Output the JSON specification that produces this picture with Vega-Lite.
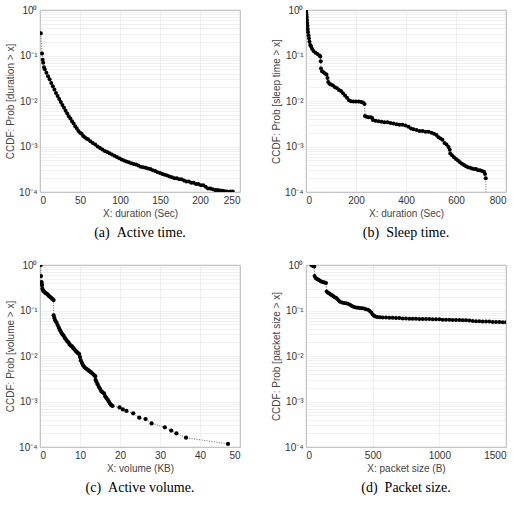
{
  "$schema": "https://vega.github.io/schema/vega-lite/v6.json",
  "padding": {"left": 5, "top": 4, "right": 4, "bottom": 4},
  "spacing": 18,
  "datasets": {
    "a": [
      {"x":1,"p":0.31},{"x":2.5,"p":0.11},{"x":3.3,"p":0.081},{"x":4,"p":0.069},{"x":5,"p":0.055},{"x":6,"p":0.05},{"x":8,"p":0.042},{"x":10,"p":0.035},{"x":12,"p":0.03},{"x":14,"p":0.025},{"x":16,"p":0.021},{"x":18,"p":0.018},{"x":20,"p":0.015},{"x":22,"p":0.0128},{"x":24,"p":0.011},{"x":26,"p":0.0095},{"x":28,"p":0.0082},{"x":30,"p":0.0071},{"x":32,"p":0.0061},{"x":34,"p":0.0053},{"x":36,"p":0.0046},{"x":38,"p":0.0041},{"x":40,"p":0.0036},{"x":42,"p":0.0032},{"x":44,"p":0.0028},{"x":46,"p":0.0025},{"x":48,"p":0.0022},{"x":50,"p":0.002},{"x":52,"p":0.0019},{"x":54,"p":0.0017},{"x":56,"p":0.0016},{"x":58,"p":0.0015},{"x":60,"p":0.00145},{"x":63,"p":0.0013},{"x":66,"p":0.0012},{"x":69,"p":0.0011},{"x":72,"p":0.001},{"x":75,"p":0.00093},{"x":78,"p":0.00086},{"x":81,"p":0.0008},{"x":84,"p":0.00076},{"x":87,"p":0.00071},{"x":90,"p":0.00067},{"x":93,"p":0.00063},{"x":96,"p":0.00059},{"x":99,"p":0.00055},{"x":102,"p":0.00052},{"x":105,"p":0.00049},{"x":108,"p":0.00047},{"x":111,"p":0.00045},{"x":114,"p":0.00043},{"x":117,"p":0.00041},{"x":120,"p":0.0004},{"x":123,"p":0.00038},{"x":126,"p":0.00036},{"x":129,"p":0.00035},{"x":132,"p":0.00034},{"x":135,"p":0.00033},{"x":138,"p":0.00032},{"x":141,"p":0.0003},{"x":144,"p":0.00029},{"x":147,"p":0.00027},{"x":150,"p":0.00026},{"x":153,"p":0.00025},{"x":156,"p":0.00024},{"x":159,"p":0.00023},{"x":162,"p":0.00022},{"x":165,"p":0.00021},{"x":168,"p":0.0002},{"x":171,"p":0.0002},{"x":174,"p":0.00019},{"x":177,"p":0.00019},{"x":180,"p":0.00018},{"x":183,"p":0.00017},{"x":186,"p":0.00017},{"x":189,"p":0.00016},{"x":192,"p":0.00016},{"x":195,"p":0.00015},{"x":198,"p":0.00015},{"x":201,"p":0.00014},{"x":204,"p":0.00014},{"x":207,"p":0.00013},{"x":210,"p":0.00012},{"x":213,"p":0.00012},{"x":216,"p":0.000115},{"x":219,"p":0.00011},{"x":222,"p":0.00011},{"x":225,"p":0.000108},{"x":228,"p":0.000106},{"x":231,"p":0.000104},{"x":234,"p":0.000103},{"x":238,"p":0.000102},{"x":241,"p":0.000102}
    ],
    "b": [
      {"x":0,"p":1.0},{"x":1,"p":0.9},{"x":2,"p":0.8},{"x":3,"p":0.7},{"x":4,"p":0.6},{"x":5,"p":0.52},{"x":6,"p":0.45},{"x":7,"p":0.38},{"x":8,"p":0.33},{"x":10,"p":0.28},{"x":12,"p":0.24},{"x":14,"p":0.2},{"x":17,"p":0.17},{"x":20,"p":0.16},{"x":24,"p":0.14},{"x":30,"p":0.125},{"x":38,"p":0.115},{"x":46,"p":0.108},{"x":54,"p":0.1},{"x":57,"p":0.095},{"x":59,"p":0.075},{"x":60,"p":0.052},{"x":64,"p":0.045},{"x":70,"p":0.043},{"x":76,"p":0.04},{"x":82,"p":0.038},{"x":86,"p":0.032},{"x":89,"p":0.026},{"x":94,"p":0.024},{"x":100,"p":0.023},{"x":108,"p":0.022},{"x":116,"p":0.02},{"x":124,"p":0.019},{"x":132,"p":0.0175},{"x":140,"p":0.0165},{"x":148,"p":0.0148},{"x":156,"p":0.0132},{"x":164,"p":0.0118},{"x":172,"p":0.0104},{"x":180,"p":0.0099},{"x":190,"p":0.0098},{"x":200,"p":0.0098},{"x":210,"p":0.0097},{"x":220,"p":0.0095},{"x":228,"p":0.0093},{"x":234,"p":0.0086},{"x":236,"p":0.0047},{"x":242,"p":0.0045},{"x":250,"p":0.0044},{"x":258,"p":0.0044},{"x":264,"p":0.0043},{"x":268,"p":0.0038},{"x":278,"p":0.0037},{"x":290,"p":0.0036},{"x":302,"p":0.0035},{"x":314,"p":0.0034},{"x":326,"p":0.0034},{"x":338,"p":0.0033},{"x":350,"p":0.0032},{"x":362,"p":0.0031},{"x":374,"p":0.003},{"x":386,"p":0.003},{"x":398,"p":0.0029},{"x":410,"p":0.0027},{"x":420,"p":0.0025},{"x":430,"p":0.0024},{"x":442,"p":0.0023},{"x":454,"p":0.0022},{"x":466,"p":0.0022},{"x":478,"p":0.0021},{"x":490,"p":0.0021},{"x":502,"p":0.002},{"x":512,"p":0.0019},{"x":522,"p":0.0018},{"x":530,"p":0.0016},{"x":538,"p":0.0015},{"x":546,"p":0.0014},{"x":554,"p":0.0012},{"x":562,"p":0.0011},{"x":570,"p":0.00098},{"x":575,"p":0.00085},{"x":577,"p":0.0007},{"x":584,"p":0.00064},{"x":592,"p":0.00058},{"x":600,"p":0.00053},{"x":608,"p":0.00049},{"x":616,"p":0.00045},{"x":624,"p":0.00042},{"x":632,"p":0.00039},{"x":640,"p":0.00037},{"x":648,"p":0.00035},{"x":656,"p":0.00034},{"x":664,"p":0.00033},{"x":672,"p":0.00032},{"x":680,"p":0.00032},{"x":688,"p":0.0003},{"x":696,"p":0.0003},{"x":704,"p":0.00029},{"x":712,"p":0.00028},{"x":716,"p":0.00025},{"x":719,"p":0.0002},{"x":721,"p":0.00005}
    ],
    "c": [
      {"x":0.2,"p":1.0},{"x":0.25,"p":0.57},{"x":0.4,"p":0.42},{"x":0.5,"p":0.36},{"x":0.6,"p":0.3},{"x":0.8,"p":0.27},{"x":1.0,"p":0.26},{"x":1.3,"p":0.245},{"x":1.6,"p":0.235},{"x":1.9,"p":0.225},{"x":2.2,"p":0.21},{"x":2.5,"p":0.2},{"x":2.8,"p":0.19},{"x":3.1,"p":0.18},{"x":3.4,"p":0.17},{"x":3.42,"p":0.078},{"x":3.6,"p":0.068},{"x":3.8,"p":0.06},{"x":4.1,"p":0.055},{"x":4.4,"p":0.048},{"x":4.7,"p":0.042},{"x":5.0,"p":0.037},{"x":5.3,"p":0.033},{"x":5.6,"p":0.03},{"x":5.9,"p":0.028},{"x":6.2,"p":0.025},{"x":6.5,"p":0.023},{"x":6.8,"p":0.021},{"x":7.1,"p":0.02},{"x":7.4,"p":0.018},{"x":7.7,"p":0.017},{"x":8.0,"p":0.0162},{"x":8.3,"p":0.015},{"x":8.6,"p":0.014},{"x":8.9,"p":0.013},{"x":9.2,"p":0.0122},{"x":9.5,"p":0.0115},{"x":9.8,"p":0.011},{"x":10.0,"p":0.0095},{"x":10.2,"p":0.008},{"x":10.5,"p":0.007},{"x":10.8,"p":0.0062},{"x":11.1,"p":0.0057},{"x":11.5,"p":0.0053},{"x":11.9,"p":0.005},{"x":12.3,"p":0.0047},{"x":12.7,"p":0.0044},{"x":13.1,"p":0.0041},{"x":13.5,"p":0.0038},{"x":13.8,"p":0.0036},{"x":13.9,"p":0.003},{"x":14.1,"p":0.0027},{"x":14.4,"p":0.0024},{"x":14.7,"p":0.0021},{"x":15.0,"p":0.0019},{"x":15.3,"p":0.0017},{"x":15.6,"p":0.0016},{"x":16.0,"p":0.0015},{"x":16.3,"p":0.0013},{"x":16.6,"p":0.0012},{"x":16.9,"p":0.0011},{"x":17.2,"p":0.001},{"x":17.5,"p":0.0009},{"x":17.8,"p":0.00083},{"x":18.1,"p":0.0008},{"x":19.9,"p":0.00074},{"x":20.7,"p":0.00067},{"x":21.6,"p":0.00062},{"x":23.3,"p":0.00055},{"x":24.8,"p":0.00044},{"x":26.4,"p":0.00041},{"x":27.9,"p":0.00033},{"x":31.2,"p":0.00027},{"x":32.8,"p":0.00023},{"x":34.1,"p":0.0002},{"x":36.5,"p":0.00016},{"x":47.0,"p":0.000117}
    ],
    "d": [
      {"x":40,"p":1.0},{"x":48,"p":0.97},{"x":55,"p":0.95},{"x":62,"p":0.93},{"x":64,"p":0.57},{"x":72,"p":0.52},{"x":80,"p":0.5},{"x":90,"p":0.48},{"x":100,"p":0.46},{"x":110,"p":0.44},{"x":120,"p":0.43},{"x":130,"p":0.42},{"x":140,"p":0.41},{"x":150,"p":0.4},{"x":155,"p":0.26},{"x":165,"p":0.245},{"x":175,"p":0.235},{"x":185,"p":0.225},{"x":195,"p":0.215},{"x":205,"p":0.205},{"x":215,"p":0.195},{"x":225,"p":0.19},{"x":235,"p":0.18},{"x":245,"p":0.165},{"x":255,"p":0.155},{"x":270,"p":0.15},{"x":285,"p":0.147},{"x":300,"p":0.145},{"x":315,"p":0.14},{"x":330,"p":0.133},{"x":345,"p":0.125},{"x":360,"p":0.12},{"x":375,"p":0.117},{"x":390,"p":0.115},{"x":405,"p":0.113},{"x":420,"p":0.112},{"x":435,"p":0.11},{"x":450,"p":0.107},{"x":465,"p":0.104},{"x":478,"p":0.098},{"x":490,"p":0.09},{"x":500,"p":0.082},{"x":510,"p":0.077},{"x":520,"p":0.074},{"x":535,"p":0.072},{"x":555,"p":0.071},{"x":575,"p":0.07},{"x":600,"p":0.07},{"x":625,"p":0.069},{"x":650,"p":0.069},{"x":675,"p":0.068},{"x":700,"p":0.068},{"x":725,"p":0.067},{"x":750,"p":0.067},{"x":775,"p":0.066},{"x":800,"p":0.066},{"x":825,"p":0.066},{"x":850,"p":0.065},{"x":875,"p":0.065},{"x":900,"p":0.065},{"x":925,"p":0.065},{"x":950,"p":0.064},{"x":975,"p":0.064},{"x":1000,"p":0.064},{"x":1025,"p":0.063},{"x":1050,"p":0.063},{"x":1075,"p":0.063},{"x":1100,"p":0.062},{"x":1125,"p":0.062},{"x":1150,"p":0.062},{"x":1175,"p":0.061},{"x":1200,"p":0.061},{"x":1225,"p":0.06},{"x":1250,"p":0.059},{"x":1275,"p":0.058},{"x":1300,"p":0.058},{"x":1325,"p":0.057},{"x":1350,"p":0.057},{"x":1375,"p":0.057},{"x":1400,"p":0.056},{"x":1425,"p":0.056},{"x":1450,"p":0.056},{"x":1475,"p":0.055},{"x":1500,"p":0.055}
    ]
  },
  "vconcat": [
    {
      "spacing": 30,
      "hconcat": [
        {
          "width": 200, "height": 182,
          "data": {"name": "a"},
          "title": {"text": "(a)\u00a0\u00a0Active time."},
          "encoding": {
            "x": {"field": "x", "type": "quantitative", "scale": {"domain": [0, 250], "nice": false}, "axis": {"title": "X: duration (Sec)", "values": [0, 50, 100, 150, 200, 250], "format": "d"}},
            "y": {"field": "p", "type": "quantitative", "scale": {"type": "log", "domain": [0.0001, 1], "nice": false}, "axis": {"title": "CCDF: Prob [duration > x]", "values": [0.0001,0.0002,0.0003,0.0004,0.0005,0.0006,0.0007,0.0008,0.0009,0.001,0.002,0.003,0.004,0.005,0.006,0.007,0.008,0.009,0.01,0.02,0.03,0.04,0.05,0.06,0.07,0.08,0.09,0.1,0.2,0.3,0.4,0.5,0.6,0.7,0.8,0.9,1], "labelExpr": "datum.value == 1 ? '10⁰' : datum.value == 0.1 ? '10⁻¹' : datum.value == 0.01 ? '10⁻²' : datum.value == 0.001 ? '10⁻³' : datum.value == 0.0001 ? '10⁻⁴' : ''"}}
          },
          "layer": [
            {"mark": {"type": "line", "color": "#222", "strokeWidth": 0.7, "strokeDash": [1, 1.5], "clip": true}},
            {"mark": {"type": "circle", "color": "black", "size": 16, "opacity": 1, "clip": true}}
          ]
        },
        {
          "width": 200, "height": 182,
          "data": {"name": "b"},
          "title": {"text": "(b)\u00a0\u00a0Sleep time."},
          "encoding": {
            "x": {"field": "x", "type": "quantitative", "scale": {"domain": [0, 800], "nice": false}, "axis": {"title": "X: duration (Sec)", "values": [0, 200, 400, 600, 800], "format": "d"}},
            "y": {"field": "p", "type": "quantitative", "scale": {"type": "log", "domain": [0.0001, 1], "nice": false}, "axis": {"title": "CCDF: Prob [sleep time > x]", "values": [0.0001,0.0002,0.0003,0.0004,0.0005,0.0006,0.0007,0.0008,0.0009,0.001,0.002,0.003,0.004,0.005,0.006,0.007,0.008,0.009,0.01,0.02,0.03,0.04,0.05,0.06,0.07,0.08,0.09,0.1,0.2,0.3,0.4,0.5,0.6,0.7,0.8,0.9,1], "labelExpr": "datum.value == 1 ? '10⁰' : datum.value == 0.1 ? '10⁻¹' : datum.value == 0.01 ? '10⁻²' : datum.value == 0.001 ? '10⁻³' : datum.value == 0.0001 ? '10⁻⁴' : ''"}}
          },
          "layer": [
            {"mark": {"type": "line", "color": "#222", "strokeWidth": 0.7, "strokeDash": [1, 1.5], "clip": true}},
            {"mark": {"type": "circle", "color": "black", "size": 16, "opacity": 1, "clip": true}}
          ]
        }
      ]
    },
    {
      "spacing": 30,
      "hconcat": [
        {
          "width": 200, "height": 182,
          "data": {"name": "c"},
          "title": {"text": "(c)\u00a0\u00a0Active volume."},
          "encoding": {
            "x": {"field": "x", "type": "quantitative", "scale": {"domain": [0, 50], "nice": false}, "axis": {"title": "X: volume (KB)", "values": [0, 10, 20, 30, 40, 50], "format": "d"}},
            "y": {"field": "p", "type": "quantitative", "scale": {"type": "log", "domain": [0.0001, 1], "nice": false}, "axis": {"title": "CCDF: Prob [volume > x]", "values": [0.0001,0.0002,0.0003,0.0004,0.0005,0.0006,0.0007,0.0008,0.0009,0.001,0.002,0.003,0.004,0.005,0.006,0.007,0.008,0.009,0.01,0.02,0.03,0.04,0.05,0.06,0.07,0.08,0.09,0.1,0.2,0.3,0.4,0.5,0.6,0.7,0.8,0.9,1], "labelExpr": "datum.value == 1 ? '10⁰' : datum.value == 0.1 ? '10⁻¹' : datum.value == 0.01 ? '10⁻²' : datum.value == 0.001 ? '10⁻³' : datum.value == 0.0001 ? '10⁻⁴' : ''"}}
          },
          "layer": [
            {"mark": {"type": "line", "color": "#222", "strokeWidth": 0.7, "strokeDash": [1, 1.5], "clip": true}},
            {"mark": {"type": "circle", "color": "black", "size": 18, "opacity": 1, "clip": true}}
          ]
        },
        {
          "width": 200, "height": 182,
          "data": {"name": "d"},
          "title": {"text": "(d)\u00a0\u00a0Packet size."},
          "encoding": {
            "x": {"field": "x", "type": "quantitative", "scale": {"domain": [0, 1500], "nice": false}, "axis": {"title": "X: packet size (B)", "values": [0, 500, 1000, 1500], "format": "d"}},
            "y": {"field": "p", "type": "quantitative", "scale": {"type": "log", "domain": [0.0001, 1], "nice": false}, "axis": {"title": "CCDF: Prob [packet size > x]", "values": [0.0001,0.0002,0.0003,0.0004,0.0005,0.0006,0.0007,0.0008,0.0009,0.001,0.002,0.003,0.004,0.005,0.006,0.007,0.008,0.009,0.01,0.02,0.03,0.04,0.05,0.06,0.07,0.08,0.09,0.1,0.2,0.3,0.4,0.5,0.6,0.7,0.8,0.9,1], "labelExpr": "datum.value == 1 ? '10⁰' : datum.value == 0.1 ? '10⁻¹' : datum.value == 0.01 ? '10⁻²' : datum.value == 0.001 ? '10⁻³' : datum.value == 0.0001 ? '10⁻⁴' : ''"}}
          },
          "layer": [
            {"mark": {"type": "line", "color": "#222", "strokeWidth": 0.7, "strokeDash": [1, 1.5], "clip": true}},
            {"mark": {"type": "circle", "color": "black", "size": 16, "opacity": 1, "clip": true}}
          ]
        }
      ]
    }
  ],
  "config": {
    "view": {"stroke": "#999", "strokeWidth": 0.8},
    "title": {"orient": "bottom", "font": "Liberation Serif", "fontSize": 14, "fontWeight": "normal", "color": "black", "offset": 8, "frame": "group", "anchor": "middle"},
    "axis": {"labelFont": "Liberation Sans", "labelFontSize": 10, "labelColor": "#333", "titleFont": "Liberation Sans", "titleFontSize": 10, "titleFontWeight": "normal", "titleColor": "#444", "domain": false, "ticks": false, "gridColor": "#d4d4d4", "gridDash": [1, 1], "gridWidth": 0.7, "labelPadding": 3, "titlePadding": 3, "labelOverlap": false}
  }
}
